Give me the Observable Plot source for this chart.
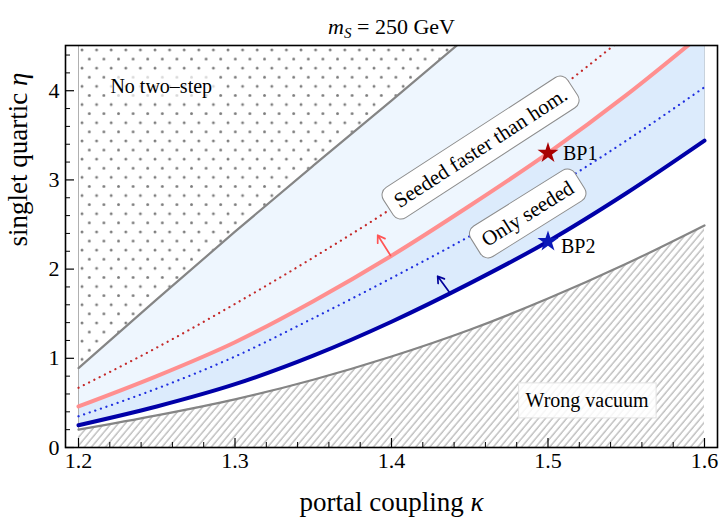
<!DOCTYPE html>
<html><head><meta charset="utf-8">
<script src="https://cdn.jsdelivr.net/npm/d3@7"></script>
<script src="https://cdn.jsdelivr.net/npm/@observablehq/plot@0.6"></script>
<style>body{margin:0;background:#fff;} svg{display:block;}</style>
</head><body><div id="chart"></div>
<script>
// ---- data ----
const kappa        = [1.20, 1.25, 1.30, 1.35, 1.40, 1.45, 1.50, 1.55, 1.60];
const noTwoStep    = [0.89, 1.66, 2.42, 3.16, 3.89, 4.63];               // gray upper boundary
const seededDotted = [0.67, 1.12, 1.61, 2.13, 2.68, 3.29, 3.93, 4.62];   // red dotted
const seededFaster = [0.46, 0.80, 1.18, 1.64, 2.15, 2.71, 3.30, 3.95, 4.66]; // pink solid
const onlyDotted   = [0.35, 0.66, 1.02, 1.45, 1.90, 2.37, 2.88, 3.44, 4.04]; // blue dotted
const onlySeeded   = [0.25, 0.46, 0.71, 1.03, 1.41, 1.84, 2.31, 2.85, 3.44]; // dark blue solid
const wrongVacuum  = [0.20, 0.36, 0.54, 0.76, 1.02, 1.32, 1.67, 2.06, 2.49]; // gray lower boundary
const bpNames = ["BP1", "BP2"];
const bpKappa = [1.5, 1.5];
const bpEta   = [3.30, 2.31];
const arrowFromKappa = [1.3994, 1.4377];
const arrowFromEta   = [2.152, 1.723];
const arrowToKappa   = [1.3912, 1.4295];
const arrowToEta     = [2.38, 1.92];
const xTickLabels = [1.2, 1.3, 1.4, 1.5, 1.6];
const yTickLabels = [0, 1, 2, 3, 4];
const titleText = "m_S = 250 GeV";
const xLabel = "portal coupling κ";
const yLabel = "singlet quartic η";

// ---- layout ----
const W = 719, H = 518, mT = 45, mB = 71, mL = 65, mR = 2;
const xDomain = [1.19169, 1.60831], yDomain = [0, 4.507];
const innerW = W - mL - mR, innerH = H - mT - mB;
const yTop = yDomain[1];
const pxY = (yDomain[1] - yDomain[0]) / innerH, pxX = (xDomain[1] - xDomain[0]) / innerW;
const xMinor = d3.range(1.2, 1.6001, 0.02).filter(v => Math.abs(v * 10 - Math.round(v * 10)) > 1e-6);
const yMinor = d3.range(0, 4.41, 0.2).filter(v => Math.abs(v - Math.round(v)) > 1e-6);

const rows = kappa.map((k, i) => ({
  k, noTwo: noTwoStep[i], redDot: seededDotted[i], pink: seededFaster[i],
  blueDot: onlyDotted[i], blue: onlySeeded[i], wrong: wrongVacuum[i]
}));
const bps = bpNames.map((n, i) => ({name: n, k: bpKappa[i], eta: bpEta[i]}));
const arrows = arrowFromKappa.map((k, i) => ({x1: k, y1: arrowFromEta[i], x2: arrowToKappa[i], y2: arrowToEta[i]}));
const curve = "monotone-x";
const font = "Liberation Serif";

const annotations = [
  {text: "Seeded faster than hom.", k: 1.457, eta: 3.36, rot: -33},
  {text: "Only seeded", k: 1.487, eta: 2.62, rot: -32}
];

const plot = Plot.plot({
  width: W, height: H, marginTop: mT, marginBottom: mB, marginLeft: mL, marginRight: mR,
  x: {domain: xDomain, axis: null},
  y: {domain: yDomain, axis: null},
  style: {fontFamily: font, background: "white", color: "black"},
  marks: [
    // regions
    Plot.areaY(rows, {x: "k", y1: "pink", y2: yTop, fill: "#eef6fe", curve, clip: true}),
    Plot.areaY(rows.filter(d => d.noTwo != null), {x: "k", y1: "noTwo", y2: yTop, fill: "white", curve, clip: true}),
    Plot.areaY(rows.filter(d => d.noTwo != null), {x: "k", y1: "noTwo", y2: yTop, fill: "url(#dots)", curve, clip: true}),
    Plot.areaY(rows, {x: "k", y1: "blue", y2: "pink", fill: "#dcebfc", curve, clip: true}),
    Plot.areaY(rows, {x: "k", y1: 0, y2: "wrong", fill: "url(#hatch)", curve, clip: true}),
    Plot.ruleX([kappa[0]], {y1: wrongVacuum[0], y2: yTop, stroke: "#b0b0b0", strokeWidth: 1}),
    Plot.ruleX([kappa[kappa.length - 1]], {y1: onlySeeded[onlySeeded.length - 1], y2: yTop, stroke: "#c8d2dc", strokeWidth: 1}),
    // boundaries
    Plot.line(rows.filter(d => d.noTwo != null), {x: "k", y: "noTwo", stroke: "#858585", strokeWidth: 2.2, curve, clip: true}),
    Plot.line(rows, {x: "k", y: "wrong", stroke: "#858585", strokeWidth: 2.2, curve, clip: true}),
    Plot.line(rows.filter(d => d.redDot != null), {x: "k", y: "redDot", stroke: "#c42a2a", strokeWidth: 2.2, strokeDasharray: "0.1 5.8", strokeLinecap: "round", curve, clip: true}),
    Plot.line(rows, {x: "k", y: "blueDot", stroke: "#2030e0", strokeWidth: 2.2, strokeDasharray: "0.1 5.8", strokeLinecap: "round", curve, clip: true}),
    Plot.line(rows, {x: "k", y: "pink", stroke: "#ff8f8f", strokeWidth: 4, curve, clip: true}),
    Plot.line(rows, {x: "k", y: "blue", stroke: "#0000a8", strokeWidth: 4, curve, clip: true}),
    // arrows
    Plot.arrow(arrows.slice(0, 1), {x1: "x1", y1: "y1", x2: "x2", y2: "y2", stroke: "#ff5555", strokeWidth: 1.7, headLength: 11, headAngle: 65}),
    Plot.arrow(arrows.slice(1, 2), {x1: "x1", y1: "y1", x2: "x2", y2: "y2", stroke: "#00009a", strokeWidth: 1.7, headLength: 11, headAngle: 65}),
    // benchmark points
    Plot.dot(bps.slice(0, 1), {x: "k", y: "eta", symbol: "star", r: 6.6, fill: "#a80000", stroke: "none"}),
    Plot.dot(bps.slice(1, 2), {x: "k", y: "eta", symbol: "star", r: 6.6, fill: "#0a18b8", stroke: "none"}),
    Plot.text(bps.slice(0, 1), {x: "k", y: "eta", text: "name", textAnchor: "start", dx: 15, dy: 0, fontSize: 20}),
    Plot.text(bps.slice(1, 2), {x: "k", y: "eta", text: "name", textAnchor: "start", dx: 13, dy: 5, fontSize: 20}),
    // region labels
    Plot.text(["No two–step"], {x: 1.2204, y: 4.05, textAnchor: "start", fontSize: 20}),
    Plot.text(["Wrong vacuum"], {x: 1.525, y: 0.527, fontSize: 20}),
    ...annotations.map(a => Plot.text([a], {x: "k", y: "eta", text: "text", rotate: a.rot, fontSize: 21})),
    // frame and ticks
    Plot.frame({stroke: "black", strokeWidth: 1.6}),
    Plot.ruleX(xMinor, {x: d => d, y1: yDomain[0], y2: yDomain[0] + 5 * pxY, stroke: "black", strokeWidth: 1}),
    Plot.ruleX(xTickLabels, {x: d => d, y1: yDomain[0], y2: yDomain[0] + 9 * pxY, stroke: "black", strokeWidth: 1.2}),
    Plot.ruleY(yMinor, {y: d => d, x1: xDomain[0], x2: xDomain[0] + 5 * pxX, stroke: "black", strokeWidth: 1}),
    Plot.ruleY(yTickLabels, {y: d => d, x1: xDomain[0], x2: xDomain[0] + 9 * pxX, stroke: "black", strokeWidth: 1.2}),
    Plot.text(xTickLabels, {x: d => d, text: d => d.toFixed(1), frameAnchor: "bottom", dy: 20, fontSize: 22}),
    Plot.text(yTickLabels, {y: d => d, text: d => String(d), frameAnchor: "left", textAnchor: "end", dx: -6, fontSize: 22}),
    Plot.text([xLabel], {frameAnchor: "bottom", dy: 63, fontSize: 27}),
    Plot.text([yLabel], {frameAnchor: "left", dx: -47, rotate: -90, fontSize: 27}),
    Plot.text([titleText], {frameAnchor: "top", dy: -27, fontSize: 22})
  ]
});
document.getElementById("chart").appendChild(plot);

// patterns
const NS = "http://www.w3.org/2000/svg";
const defs = document.createElementNS(NS, "defs");
defs.innerHTML = `
<pattern id="dots" patternUnits="userSpaceOnUse" width="14.6" height="18.2" x="${mL + 15}" y="${mT + 3}">
  <circle cx="2" cy="2" r="1.45" fill="#7c7c7c"/>
  <circle cx="9.3" cy="11.1" r="1.45" fill="#7c7c7c"/>
</pattern>
<pattern id="hatch" patternUnits="userSpaceOnUse" width="5.4" height="5.4" patternTransform="rotate(40)">
  <line x1="1" y1="0" x2="1" y2="5.4" stroke="#959595" stroke-width="0.9"/>
</pattern>`;
plot.insertBefore(defs, plot.firstChild);

// text helpers
const texts = () => Array.from(plot.querySelectorAll("text"));
function findText(str) { return texts().find(t => t.textContent === str); }
function boxBehind(el, o) {
  const bb = el.getBBox();
  const r = document.createElementNS(NS, "rect");
  r.setAttribute("x", bb.x - o.padX);
  r.setAttribute("y", bb.y - o.padY);
  r.setAttribute("width", bb.width + 2 * o.padX);
  r.setAttribute("height", bb.height + 2 * o.padY);
  r.setAttribute("rx", o.rx);
  r.setAttribute("fill", o.fill);
  r.setAttribute("fill-opacity", o.fillOpacity);
  r.setAttribute("stroke", o.stroke || "none");
  r.setAttribute("stroke-width", o.strokeWidth || 0);
  const tr = el.getAttribute("transform");
  if (tr) r.setAttribute("transform", tr);
  el.parentNode.insertBefore(r, el);
}
annotations.forEach(a => {
  const t = findText(a.text);
  if (t) boxBehind(t, {padX: 9, padY: 6, rx: 9, fill: "white", fillOpacity: 1, stroke: "#8c8c8c", strokeWidth: 1});
});
const nt = findText("No two–step");
if (nt) boxBehind(nt, {padX: 5, padY: 3, rx: 0, fill: "white", fillOpacity: 0.7});
const wv = findText("Wrong vacuum");
if (wv) boxBehind(wv, {padX: 7, padY: 6, rx: 0, fill: "white", fillOpacity: 0.85, stroke: "#e2e2e2", strokeWidth: 1});

const tt = findText(titleText);
if (tt) tt.innerHTML = `<tspan font-style="italic">m</tspan><tspan font-style="italic" font-size="15" dy="4">S</tspan><tspan dy="-4"> = 250 GeV</tspan>`;
const xl = findText(xLabel);
if (xl) xl.innerHTML = `portal coupling <tspan font-style="italic">κ</tspan>`;
const yl = findText(yLabel);
if (yl) yl.innerHTML = `singlet quartic <tspan font-style="italic">η</tspan>`;
</script>
</body></html>
